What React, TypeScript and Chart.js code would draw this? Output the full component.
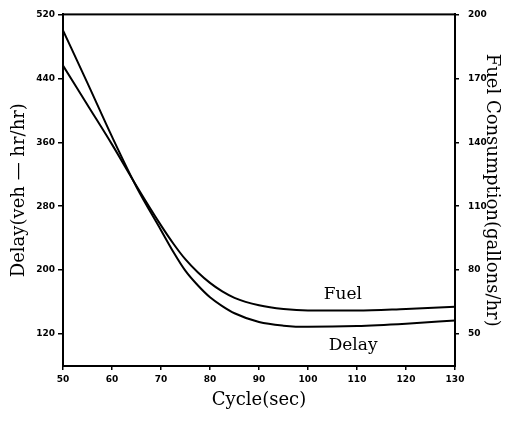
import React, { useEffect, useRef } from 'react';
import { Chart, registerables } from 'chart.js';

Chart.register(...registerables);

const cycle = [50, 55, 60, 65, 70, 72.5, 75, 77.5, 80, 82.5, 85, 90, 95, 100, 110, 120, 130];
const delay = [500, 434, 367, 304, 250, 223, 199, 181, 166, 155, 146, 135, 130.5, 129, 130, 133, 137];
const fuel = [176, 157.5, 139, 119.5, 101, 92.5, 85, 79, 74, 70, 67, 63.5, 61.7, 61, 61, 61.8, 62.8];
const delayTicks = [120, 200, 280, 360, 440, 520];
const fuelTicks = [50, 80, 110, 140, 170, 200];
const cycleTicks = [50, 60, 70, 80, 90, 100, 110, 120, 130];

const curveLabels = [
  { text: 'Fuel', x: 107.1, y: 68.5, axis: 'y1' },
  { text: 'Delay', x: 109.2, y: 106, axis: 'y' },
];

const SERIF = "'DejaVu Serif', serif";
const TICKFONT = { family: "'DejaVu Sans', sans-serif", size: 9, weight: 'bold' as const };

const framePlugin = {
  id: 'frame',
  afterDatasetsDraw(chart: any) {
    const { ctx, chartArea } = chart;
    ctx.save();
    ctx.strokeStyle = '#000';
    ctx.lineWidth = 2;
    ctx.strokeRect(chartArea.left, chartArea.top, chartArea.right - chartArea.left, chartArea.bottom - chartArea.top);
    ctx.fillStyle = '#000';
    ctx.font = `17px ${SERIF}`;
    ctx.textAlign = 'center';
    ctx.textBaseline = 'middle';
    for (const l of curveLabels) {
      const px = chart.scales.x.getPixelForValue(l.x);
      const py = chart.scales[l.axis].getPixelForValue(l.y);
      ctx.fillText(l.text, px, py);
    }
    ctx.restore();
  },
};

export default function App() {
  const ref = useRef<HTMLCanvasElement | null>(null);
  useEffect(() => {
    if (!ref.current) return;
    const chart = new Chart(ref.current, {
      type: 'line',
      data: {
        datasets: [
          {
            label: 'Delay',
            data: cycle.map((c, i) => ({ x: c, y: delay[i] })),
            yAxisID: 'y',
            borderColor: '#000',
            borderWidth: 2,
            pointRadius: 0,
            fill: false,
            cubicInterpolationMode: 'monotone',
          },
          {
            label: 'Fuel',
            data: cycle.map((c, i) => ({ x: c, y: fuel[i] })),
            yAxisID: 'y1',
            borderColor: '#000',
            borderWidth: 2,
            pointRadius: 0,
            fill: false,
            cubicInterpolationMode: 'monotone',
          },
        ],
      },
      options: {
        responsive: false,
        animation: false,
        layout: { padding: { top: 12, left: 0, right: 0, bottom: 0 } },
        plugins: { legend: { display: false }, tooltip: { enabled: false } },
        scales: {
          x: {
            type: 'linear',
            min: 50,
            max: 130,
            afterBuildTicks: (s: any) => { s.ticks = cycleTicks.map((v) => ({ value: v })); },
            afterFit: (s: any) => { s.height = 55; },
            grid: { display: true, drawOnChartArea: false, tickLength: 4, color: '#000', lineWidth: 1.5 },
            border: { display: true, color: '#000', width: 2 },
            ticks: { color: '#000', font: TICKFONT, padding: 4, maxRotation: 0 },
            title: { display: true, text: 'Cycle(sec)', color: '#000', font: { family: SERIF, size: 18 }, padding: { top: 0, bottom: 10 } },
          },
          y: {
            type: 'linear',
            position: 'left',
            min: 80,
            max: 520,
            afterBuildTicks: (s: any) => { s.ticks = delayTicks.map((v) => ({ value: v })); },
            afterFit: (s: any) => { s.width = 63; },
            grid: { display: true, drawOnChartArea: false, tickLength: 5, color: '#000', lineWidth: 1.5 },
            border: { display: true, color: '#000', width: 2 },
            ticks: { color: '#000', font: TICKFONT, padding: 3 },
            title: { display: true, text: 'Delay(veh — hr/hr)', color: '#000', font: { family: SERIF, size: 18 }, padding: { top: 9, bottom: 0 } },
          },
          y1: {
            type: 'linear',
            position: 'right',
            min: 35,
            max: 200,
            afterBuildTicks: (s: any) => { s.ticks = fuelTicks.map((v) => ({ value: v })); },
            afterFit: (s: any) => { s.width = 54; },
            grid: { display: true, drawOnChartArea: false, tickLength: 4, color: '#000', lineWidth: 1.5 },
            border: { display: true, color: '#000', width: 2 },
            ticks: { color: '#000', font: TICKFONT, padding: 9 },
            title: { display: true, text: 'Fuel Consumption(gallons/hr)', color: '#000', font: { family: SERIF, size: 18 }, padding: { top: 7, bottom: 0 } },
          },
        },
      },
      plugins: [framePlugin],
    } as any);
    return () => chart.destroy();
  }, []);
  return (
    <div style={{ position: 'fixed', left: 0, top: 0, width: 509, height: 421, background: '#fff' }}>
      <canvas ref={ref} width={509} height={421} style={{ width: 509, height: 421, display: 'block' }} />
    </div>
  );
}
